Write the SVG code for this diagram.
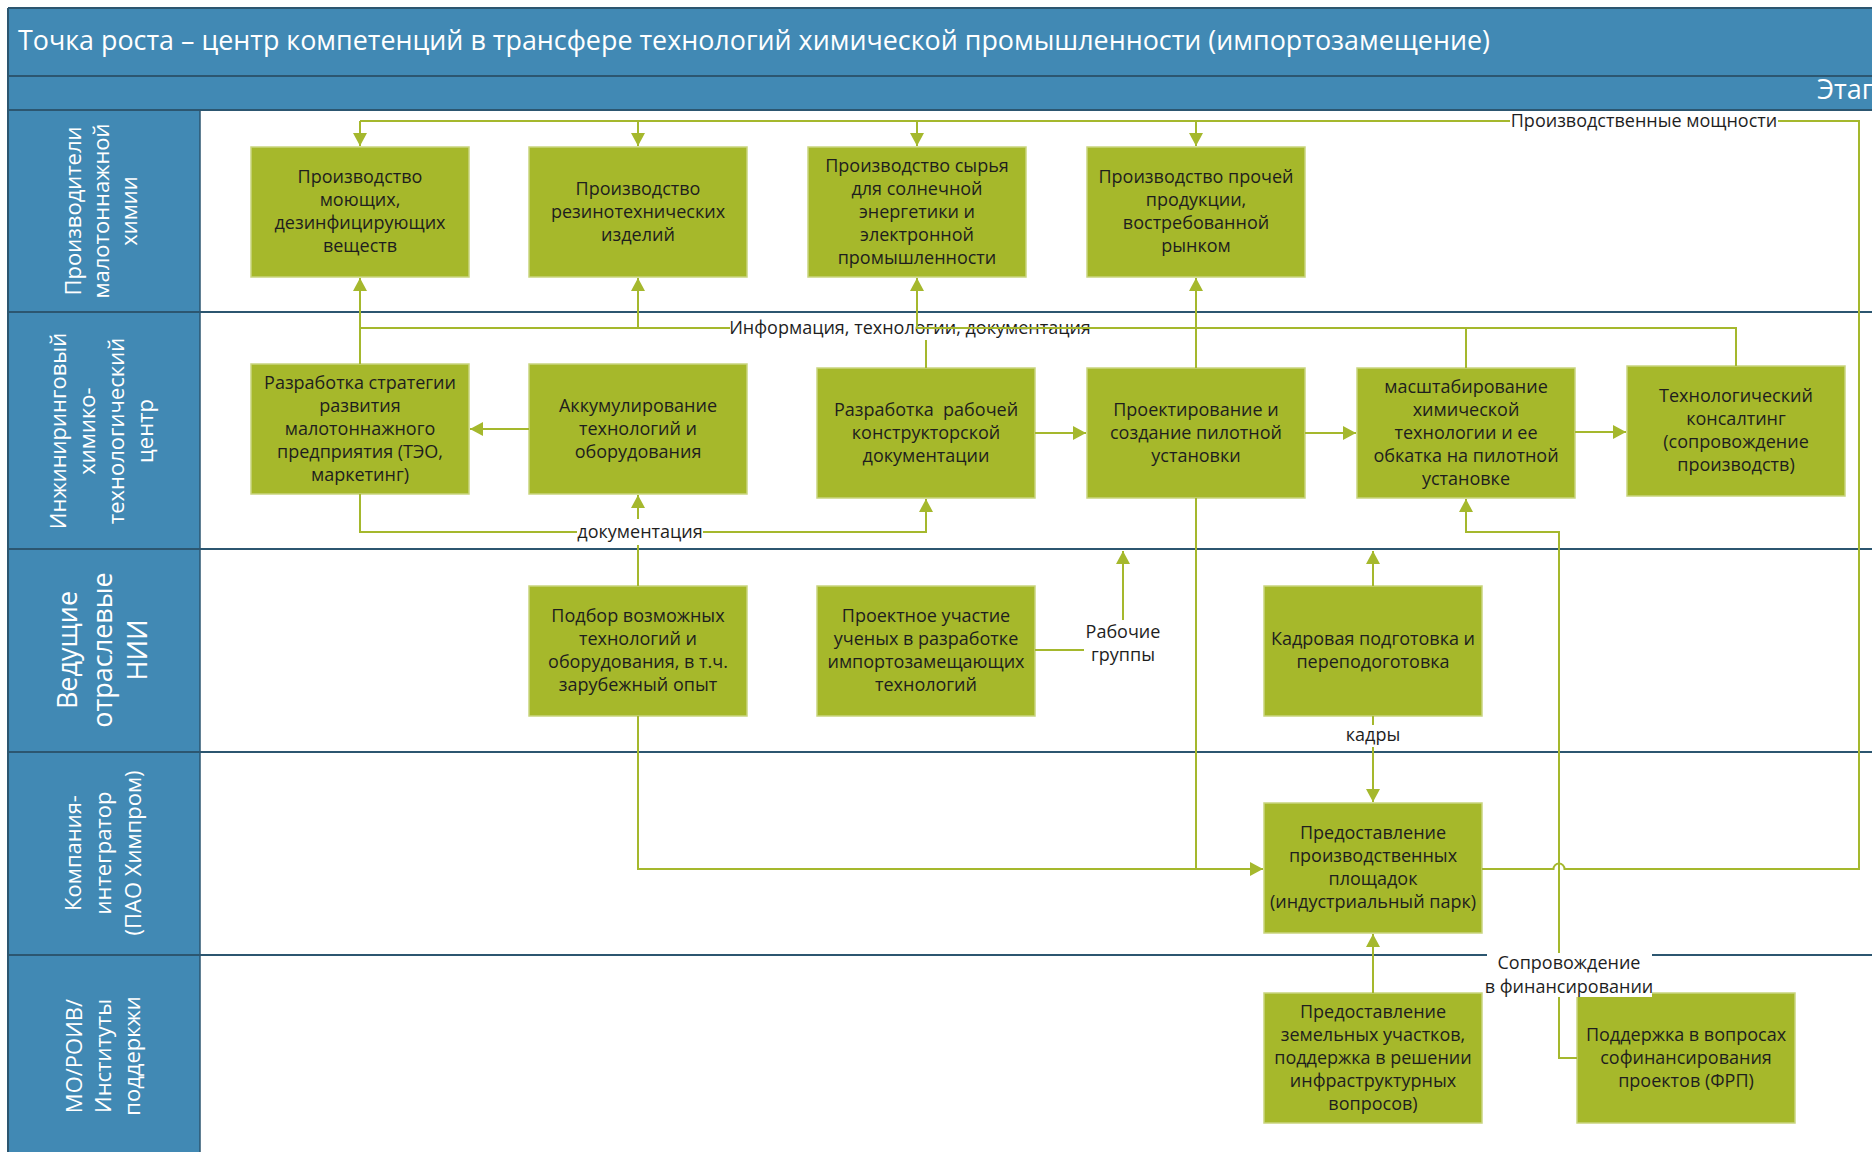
<svg xmlns="http://www.w3.org/2000/svg" width="1872" height="1152" viewBox="0 0 1872 1152">
<defs>
<marker id="ah" markerUnits="userSpaceOnUse" markerWidth="14" markerHeight="14" viewBox="0 0 14 14" refX="13" refY="7" orient="auto">
<path d="M0,0 L13,7 L0,14 z" fill="#A5B82D"/>
</marker>
<style>
.hdr{fill:#4189B4}
.dl{stroke:#2C5670;stroke-width:2;fill:none}
.ht{font-family:"Open Sans","Noto Sans",sans-serif;font-size:27px;fill:#ffffff}
.lt{font-family:"Open Sans","Noto Sans",sans-serif;font-size:22px;fill:#ffffff;text-anchor:middle}
.lt3{font-size:27px}
.box{fill:#A6B82B;stroke:#C9D57F;stroke-width:1.5}
.bt{font-family:"Open Sans","Noto Sans",sans-serif;font-size:18px;fill:#1E1E1E;text-anchor:middle}
.cn{stroke:#A5B82D;stroke-width:2;fill:none}
.ar{marker-end:url(#ah)}
.lb{fill:#ffffff}
.cl{font-family:"Open Sans","Noto Sans",sans-serif;font-size:18px;fill:#1E1E1E;text-anchor:middle}
</style>
</defs>
<rect x="0" y="0" width="1872" height="1152" fill="#ffffff"/>

<g id="header">
<rect class="hdr" x="8" y="8" width="1864" height="102"/>
<line class="dl" x1="8" y1="8" x2="1872" y2="8"/>
<line class="dl" x1="8" y1="76" x2="1872" y2="76"/>
<text class="ht" x="18" y="50" textLength="1472" lengthAdjust="spacingAndGlyphs">Точка роста – центр компетенций в трансфере технологий химической промышленности (импортозамещение)</text>
<text class="ht" x="1817" y="99">Этап</text>
</g>

<g id="lanes">
<rect class="hdr" x="8" y="110" width="192" height="1042"/>
<line class="dl" x1="8" y1="110" x2="1872" y2="110"/>
<line class="dl" x1="8" y1="312" x2="1872" y2="312"/>
<line class="dl" x1="8" y1="549" x2="1872" y2="549"/>
<line class="dl" x1="8" y1="752" x2="1872" y2="752"/>
<line class="dl" x1="8" y1="955" x2="1872" y2="955"/>
<line class="dl" x1="8" y1="8" x2="8" y2="1152"/>
<line class="dl" x1="200" y1="110" x2="200" y2="1152" style="stroke-width:1.5"/>
<g id="lane1">
<text class="lt" transform="translate(81,211) rotate(-90)">Производители</text>
<text class="lt" transform="translate(109,211) rotate(-90)">малотоннажной</text>
<text class="lt" transform="translate(137,211) rotate(-90)">химии</text>
</g>
<g id="lane2">
<text class="lt" transform="translate(66,431) rotate(-90)">Инжиниринговый</text>
<text class="lt" transform="translate(95,431) rotate(-90)">химико-</text>
<text class="lt" transform="translate(124,431) rotate(-90)">технологический</text>
<text class="lt" transform="translate(153,431) rotate(-90)">центр</text>
</g>
<g id="lane3">
<text class="lt lt3" transform="translate(77,650) rotate(-90)">Ведущие</text>
<text class="lt lt3" transform="translate(112,650) rotate(-90)">отраслевые</text>
<text class="lt lt3" transform="translate(147,650) rotate(-90)">НИИ</text>
</g>
<g id="lane4">
<text class="lt" transform="translate(81,853) rotate(-90)">Компания-</text>
<text class="lt" transform="translate(111,853) rotate(-90)">интегратор</text>
<text class="lt" transform="translate(141,853) rotate(-90)">(ПАО Химпром)</text>
</g>
<g id="lane5">
<text class="lt" transform="translate(82,1056) rotate(-90)">МО/РОИВ/</text>
<text class="lt" transform="translate(111,1056) rotate(-90)">Институты</text>
<text class="lt" transform="translate(140,1056) rotate(-90)">поддеркжи</text>
</g>
</g>

<g id="nodes">
<g id="n1"><rect class="box" x="251" y="147" width="218" height="130"/>
<text class="bt" y="183"><tspan x="360">Производство</tspan><tspan x="360" dy="23">моющих,</tspan><tspan x="360" dy="23">дезинфицирующих</tspan><tspan x="360" dy="23">веществ</tspan></text></g>
<g id="n2"><rect class="box" x="529" y="147" width="218" height="130"/>
<text class="bt" y="194.5"><tspan x="638">Производство</tspan><tspan x="638" dy="23">резинотехнических</tspan><tspan x="638" dy="23">изделий</tspan></text></g>
<g id="n3"><rect class="box" x="808" y="147" width="218" height="130"/>
<text class="bt" y="171.5"><tspan x="917">Производство сырья</tspan><tspan x="917" dy="23">для солнечной</tspan><tspan x="917" dy="23">энергетики и</tspan><tspan x="917" dy="23">электронной</tspan><tspan x="917" dy="23">промышленности</tspan></text></g>
<g id="n4"><rect class="box" x="1087" y="147" width="218" height="130"/>
<text class="bt" y="183"><tspan x="1196">Производство прочей</tspan><tspan x="1196" dy="23">продукции,</tspan><tspan x="1196" dy="23">востребованной</tspan><tspan x="1196" dy="23">рынком</tspan></text></g>
<g id="n5"><rect class="box" x="251" y="364" width="218" height="130"/>
<text class="bt" y="388.5"><tspan x="360">Разработка стратегии</tspan><tspan x="360" dy="23">развития</tspan><tspan x="360" dy="23">малотоннажного</tspan><tspan x="360" dy="23">предприятия (ТЭО,</tspan><tspan x="360" dy="23">маркетинг)</tspan></text></g>
<g id="n6"><rect class="box" x="529" y="364" width="218" height="130"/>
<text class="bt" y="411.5"><tspan x="638">Аккумулирование</tspan><tspan x="638" dy="23">технологий и</tspan><tspan x="638" dy="23">оборудования</tspan></text></g>
<g id="n7"><rect class="box" x="817" y="368" width="218" height="130"/>
<text class="bt" y="415.5" style="white-space:pre"><tspan x="926">Разработка  рабочей</tspan><tspan x="926" dy="23">конструкторской</tspan><tspan x="926" dy="23">документации</tspan></text></g>
<g id="n8"><rect class="box" x="1087" y="368" width="218" height="130"/>
<text class="bt" y="415.5"><tspan x="1196">Проектирование и</tspan><tspan x="1196" dy="23">создание пилотной</tspan><tspan x="1196" dy="23">установки</tspan></text></g>
<g id="n9"><rect class="box" x="1357" y="368" width="218" height="130"/>
<text class="bt" y="392.5"><tspan x="1466">масштабирование</tspan><tspan x="1466" dy="23">химической</tspan><tspan x="1466" dy="23">технологии и ее</tspan><tspan x="1466" dy="23">обкатка на пилотной</tspan><tspan x="1466" dy="23">установке</tspan></text></g>
<g id="n10"><rect class="box" x="1627" y="366" width="218" height="130"/>
<text class="bt" y="402"><tspan x="1736">Технологический</tspan><tspan x="1736" dy="23">консалтинг</tspan><tspan x="1736" dy="23">(сопровождение</tspan><tspan x="1736" dy="23">производств)</tspan></text></g>
<g id="n11"><rect class="box" x="529" y="586" width="218" height="130"/>
<text class="bt" y="622"><tspan x="638">Подбор возможных</tspan><tspan x="638" dy="23">технологий и</tspan><tspan x="638" dy="23">оборудования, в т.ч.</tspan><tspan x="638" dy="23">зарубежный опыт</tspan></text></g>
<g id="n12"><rect class="box" x="817" y="586" width="218" height="130"/>
<text class="bt" y="622"><tspan x="926">Проектное участие</tspan><tspan x="926" dy="23">ученых в разработке</tspan><tspan x="926" dy="23">импортозамещающих</tspan><tspan x="926" dy="23">технологий</tspan></text></g>
<g id="n13"><rect class="box" x="1264" y="586" width="218" height="130"/>
<text class="bt" y="645"><tspan x="1373">Кадровая подготовка и</tspan><tspan x="1373" dy="23">переподоготовка</tspan></text></g>
<g id="n14"><rect class="box" x="1264" y="803" width="218" height="130"/>
<text class="bt" y="839"><tspan x="1373">Предоставление</tspan><tspan x="1373" dy="23">производственных</tspan><tspan x="1373" dy="23">площадок</tspan><tspan x="1373" dy="23">(индустриальный парк)</tspan></text></g>
<g id="n15"><rect class="box" x="1264" y="993" width="218" height="130"/>
<text class="bt" y="1017.5"><tspan x="1373">Предоставление</tspan><tspan x="1373" dy="23">земельных участков,</tspan><tspan x="1373" dy="23">поддержка в решении</tspan><tspan x="1373" dy="23">инфраструктурных</tspan><tspan x="1373" dy="23">вопросов)</tspan></text></g>
<g id="n16"><rect class="box" x="1577" y="993" width="218" height="130"/>
<text class="bt" y="1040.5"><tspan x="1686">Поддержка в вопросах</tspan><tspan x="1686" dy="23">софинансирования</tspan><tspan x="1686" dy="23">проектов (ФРП)</tspan></text></g>
</g>

<g id="connectors">
<!-- production capacity -->
<path class="cn" d="M1482,869 H1553.5 a5.5,5.5 0 0 1 11,0 H1859 V121 H360"/>
<path class="cn ar" d="M360,121 V146"/>
<path class="cn ar" d="M638,121 V146"/>
<path class="cn ar" d="M917,121 V146"/>
<path class="cn ar" d="M1196,121 V146"/>
<rect class="lb" x="1510" y="111" width="268" height="22"/>
<text class="cl" x="1644" y="127">Производственные мощности</text>
<!-- information line -->
<path class="cn" d="M360,328 H1736 V366"/>
<path class="cn ar" d="M360,364 V278"/>
<path class="cn ar" d="M638,328 V278"/>
<path class="cn ar" d="M917,328 V278"/>
<path class="cn" d="M926,368 V328"/>
<path class="cn ar" d="M1196,368 V278"/>
<path class="cn" d="M1466,368 V328"/>
<rect class="lb" x="730" y="317" width="360" height="23"/>
<text class="cl" x="910" y="334">Информация, технологии, документация</text>
<path class="cn" d="M917,316 V328 H1090"/>
<!-- documentation -->
<path class="cn ar" d="M360,494 V532 H926 V499"/>
<path class="cn ar" d="M638,586 V495"/>
<rect class="lb" x="577" y="519" width="126" height="26"/>
<text class="cl" x="640" y="538">документация</text>
<!-- to industrial park -->
<path class="cn ar" d="M638,716 V869 H1263"/>
<path class="cn" d="M1196,498 V869"/>
<!-- lane 2 flow -->
<path class="cn ar" d="M529,429 H470"/>
<path class="cn ar" d="M1035,433 H1086"/>
<path class="cn ar" d="M1305,433 H1356"/>
<path class="cn ar" d="M1575,432 H1626"/>
<!-- working groups -->
<path class="cn" d="M1035,650 H1084"/>
<path class="cn ar" d="M1123,620 V551"/>
<text class="cl" x="1123" y="638"><tspan x="1123">Рабочие</tspan><tspan x="1123" dy="23">группы</tspan></text>
<!-- staff -->
<path class="cn ar" d="M1373,586 V551"/>
<path class="cn ar" d="M1373,716 V802"/>
<rect class="lb" x="1343" y="725" width="60" height="22"/>
<text class="cl" x="1373" y="741">кадры</text>
<path class="cn ar" d="M1373,993 V934"/>
<!-- financing -->
<path class="cn ar" d="M1577,1058 H1559 V532 H1466 V499"/>
<rect class="lb" x="1487" y="953" width="165" height="44"/>
<text class="cl" x="1569" y="969"><tspan x="1569">Сопровождение</tspan><tspan x="1569" dy="24">в финансировании</tspan></text>
</g>
</svg>
